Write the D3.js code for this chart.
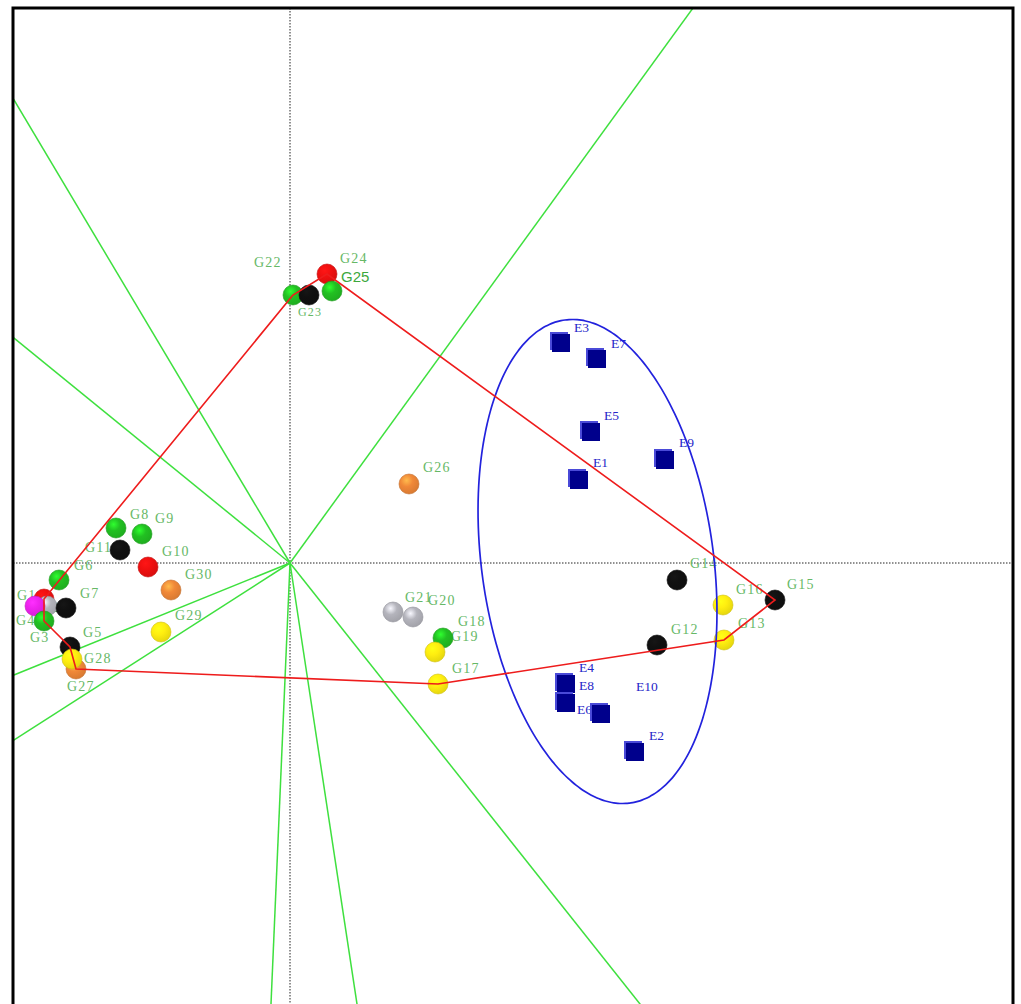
<!DOCTYPE html>
<html>
<head>
<meta charset="utf-8">
<script src="https://cdn.jsdelivr.net/npm/d3@7"></script>
<style>
  html, body { margin: 0; padding: 0; background: #fff; }
  svg { display: block; }
</style>
</head>
<body>
<svg id="plot" width="1021" height="1004"></svg>
<script>
// GGE biplot, "which-won-where" view: genotype scores, environment scores,
// convex hull of the outermost genotypes and the sector boundaries.

const genotypes = ["G1","G2","G3","G4","G5","G6","G7","G8","G9","G10",
                   "G11","G12","G13","G14","G15","G16","G17","G18","G19","G20",
                   "G21","G22","G23","G24","G25","G26","G27","G28","G29","G30"];
const genoPC1 = [-2.46,-2.43,-2.55,-2.46,-2.20,-2.31,-2.24,-1.74,-1.48,-1.42,
                 -1.70, 3.67, 4.34, 3.87, 4.85, 4.33, 1.48, 1.53, 1.45, 1.23,
                  1.03, 0.03, 0.19, 0.37, 0.42, 1.19,-2.14,-2.18,-1.29,-1.19];
const genoPC2 = [-0.36,-0.43,-0.43,-0.58,-0.84,-0.17,-0.45, 0.35, 0.29,-0.04,
                  0.13,-0.82,-0.77,-0.17,-0.37,-0.42,-1.21,-0.75,-0.89,-0.54,
                 -0.49, 2.68, 2.68, 2.89, 2.72, 0.79,-1.06,-0.96,-0.69,-0.27];
const genoGroup = ["R","S","M","V","K","V","K","V","V","R",
                   "K","K","Y","K","K","Y","Y","V","Y","S",
                   "S","V","K","R","V","O","O","Y","Y","O"];

const environments = ["E1","E2","E3","E4","E5","E6","E7","E8","E9","E10"];
const envPC1 = [2.88, 3.44, 2.70, 2.75, 3.00, 3.10, 3.06, 2.75, 3.74, 3.55];
const envPC2 = [0.84,-1.88, 2.21,-1.20, 1.32,-1.50, 2.05,-1.39, 1.04,-1.19];
// environments whose score has only a name in the plot, no symbol
const envNameOnly = ["E10"];

// vertices of the polygon, in drawing order
const hullOrder = ["G22","G1","G4","G5","G27","G17","G13","G15","G24"];

// sector boundaries: rays from the origin, perpendicular to the polygon sides
const rayPC1 = [ 4.03,-2.76,-2.76,-2.76,-2.76,-0.19, 0.67, 3.50];
const rayPC2 = [ 5.55, 4.63, 2.25,-1.12,-1.77,-4.41,-4.41,-4.41];

// mega-environment ellipse (centre, semi-axes, direction of the long axis)
const ellipseCentre = [3.075, 0.015];
const ellipseSemiAxes = [2.437, 1.16];
const ellipseLongAxisDir = [0.65, -4.83];

// ---------------------------------------------------------------------------
const svg = d3.select("#plot");
const frame = { left: 13, top: 8, right: 1013, bottom: 1008 };

const x = d3.scaleLinear().domain([-2.77, 7.23]).range([frame.left, frame.right]);
const y = d3.scaleLinear().domain([-4.45, 5.55]).range([frame.bottom, frame.top]);

const groupColour = d3.scaleOrdinal()
  .domain(["V","R","K","Y","O","S","M"])
  .range(["#22c022", "#f01010", "#101010", "#ffee10", "#f08838", "#b4b4bc", "#ee22ee"]);

const defs = svg.append("defs");
defs.append("clipPath").attr("id", "plotArea")
  .append("rect")
  .attr("x", frame.left).attr("y", frame.top)
  .attr("width", frame.right - frame.left).attr("height", frame.bottom - frame.top);

groupColour.domain().forEach(g => {
  const base = d3.color(groupColour(g));
  const grad = defs.append("radialGradient").attr("id", "ball-" + g)
    .attr("cx", "38%").attr("cy", "32%").attr("r", "70%");
  grad.append("stop").attr("offset", "0%").attr("stop-color", base.brighter(0.9));
  grad.append("stop").attr("offset", "45%").attr("stop-color", base);
  grad.append("stop").attr("offset", "100%").attr("stop-color", base.darker(0.3));
});

const plot = svg.append("g").attr("clip-path", "url(#plotArea)");

// dotted axes through the origin
plot.append("line")
  .attr("x1", x(0)).attr("x2", x(0))
  .attr("y1", frame.top).attr("y2", frame.bottom)
  .attr("stroke", "#222").attr("stroke-width", 1).attr("stroke-dasharray", "1.5,1.5");
plot.append("line")
  .attr("x1", frame.left).attr("x2", frame.right)
  .attr("y1", y(0)).attr("y2", y(0))
  .attr("stroke", "#222").attr("stroke-width", 1).attr("stroke-dasharray", "1.5,1.5");

// sector rays (extended past the frame and clipped)
plot.append("g").selectAll("line")
  .data(d3.range(rayPC1.length))
  .join("line")
  .attr("x1", x(0)).attr("y1", y(0))
  .attr("x2", i => x(rayPC1[i] * 3)).attr("y2", i => y(rayPC2[i] * 3))
  .attr("stroke", "#3ee03e").attr("stroke-width", 1.5);

// genotype and environment labels sit under the symbols
const genoLabelOffset = {
  G1:[-27,1], G2:[-7,6], G3:[-5,36], G4:[-28,4], G5:[13,-10], G6:[15,-10],
  G7:[14,-10], G8:[14,-9], G9:[13,-11], G10:[14,-11], G11:[-35,2], G12:[14,-11],
  G13:[14,-12], G14:[13,-12], G15:[12,-11], G16:[13,-11], G17:[14,-11], G18:[15,-12],
  G19:[16,-11], G20:[15,-12], G21:[12,-10], G22:[-39,-28], G23:[-11,21], G24:[13,-11],
  G25:[9,-9], G26:[14,-12], G27:[-9,22], G28:[12,4], G29:[14,-12], G30:[14,-11]
};
const envLabelOffset = {
  E1:[15,-12], E2:[15,-11], E3:[14,-10], E4:[14,-11], E5:[14,-11],
  E6:[-23,1], E7:[15,-10], E8:[14,-12], E9:[15,-12], E10:[-9,9]
};

const gIdx = d3.range(genotypes.length);
const eIdx = d3.range(environments.length);

plot.append("g").selectAll("text")
  .data(gIdx)
  .join("text")
  .attr("x", i => x(genoPC1[i]) + genoLabelOffset[genotypes[i]][0])
  .attr("y", i => y(genoPC2[i]) + genoLabelOffset[genotypes[i]][1])
  .attr("font-family", i => genotypes[i] === "G25" ? "'Liberation Sans', Arial, sans-serif" : "'Liberation Serif', 'Times New Roman', serif")
  .attr("font-size", i => genotypes[i] === "G25" ? 15 : (genotypes[i] === "G23" ? 12 : 14))
  .attr("letter-spacing", i => genotypes[i] === "G25" ? 0 : 1.2)
  .attr("fill", i => genotypes[i] === "G25" ? "#3ca83c" : "#66b866")
  .text(i => genotypes[i]);

plot.append("g").selectAll("text")
  .data(eIdx)
  .join("text")
  .attr("x", i => x(envPC1[i]) + envLabelOffset[environments[i]][0])
  .attr("y", i => y(envPC2[i]) + envLabelOffset[environments[i]][1])
  .attr("font-family", "'Liberation Serif', 'Times New Roman', serif")
  .attr("font-size", 13.5)
  .attr("fill", "#2626c8")
  .text(i => environments[i]);

// genotype symbols
plot.append("g").selectAll("circle")
  .data(gIdx)
  .join("circle")
  .attr("cx", i => x(genoPC1[i]))
  .attr("cy", i => y(genoPC2[i]))
  .attr("r", 10)
  .attr("fill", i => `url(#ball-${genoGroup[i]})`)
  .attr("stroke", i => d3.color(groupColour(genoGroup[i])).darker(0.6))
  .attr("stroke-width", 0.6);

// environment symbols: bevelled navy squares
const envShown = eIdx.filter(i => !envNameOnly.includes(environments[i]));
const envSym = plot.append("g").selectAll("g")
  .data(envShown)
  .join("g")
  .attr("transform", i => `translate(${x(envPC1[i])},${y(envPC2[i])})`);
envSym.append("rect")
  .attr("x", -10).attr("y", -10).attr("width", 18).attr("height", 18)
  .attr("fill", "#4a4ad8");
envSym.append("rect")
  .attr("x", -8).attr("y", -8).attr("width", 18).attr("height", 18)
  .attr("fill", "#00008c");

// mega-environment ellipse
const len = Math.hypot(ellipseLongAxisDir[0], ellipseLongAxisDir[1]);
const u = [ellipseLongAxisDir[0] / len, ellipseLongAxisDir[1] / len];
const v = [-u[1], u[0]];
const ellipsePts = d3.range(0, 361, 2).map(deg => {
  const t = deg * Math.PI / 180;
  const a = ellipseSemiAxes[0] * Math.cos(t), b = ellipseSemiAxes[1] * Math.sin(t);
  return [ellipseCentre[0] + a * u[0] + b * v[0], ellipseCentre[1] + a * u[1] + b * v[1]];
});
plot.append("path")
  .datum(ellipsePts)
  .attr("d", d3.line().x(d => x(d[0])).y(d => y(d[1])).curve(d3.curveCardinalClosed))
  .attr("fill", "none").attr("stroke", "#2222dd").attr("stroke-width", 1.7);

// convex hull of the vertex genotypes
const hullPts = hullOrder.map(n => {
  const i = genotypes.indexOf(n);
  return [genoPC1[i], genoPC2[i]];
});
plot.append("path")
  .datum(hullPts)
  .attr("d", d3.line().x(d => x(d[0])).y(d => y(d[1])).curve(d3.curveLinearClosed))
  .attr("fill", "none").attr("stroke", "#ee1c1c").attr("stroke-width", 1.6);

// frame
svg.append("rect")
  .attr("x", frame.left).attr("y", frame.top)
  .attr("width", frame.right - frame.left).attr("height", frame.bottom - frame.top)
  .attr("fill", "none").attr("stroke", "#000").attr("stroke-width", 3);
</script>
</body>
</html>
